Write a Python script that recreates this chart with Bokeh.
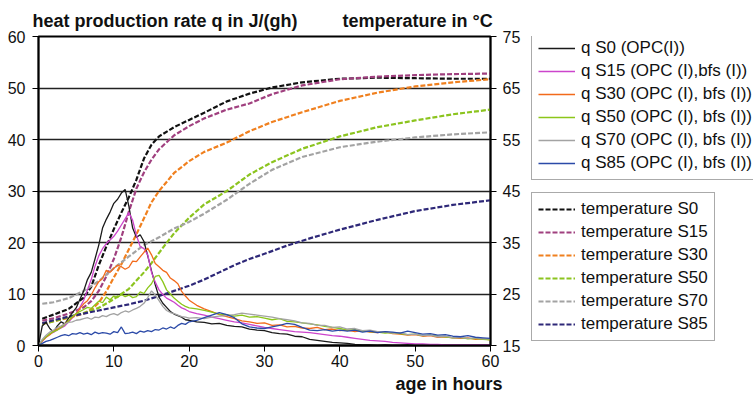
from bokeh.plotting import figure
from bokeh.models import Range1d, LinearAxis, FixedTicker, Legend, LegendItem, Title
from bokeh.layouts import row
from bokeh.embed import file_html
from bokeh.resources import INLINE

# ---------------- data ----------------
X_TICKS = [0, 10, 20, 30, 40, 50, 60]
Q_TICKS = [0, 10, 20, 30, 40, 50, 60]
TEMP_TICKS = [15, 25, 35, 45, 55, 65, 75]

# age grid of the heat production curves (hours)
age_q = [0, 0.5, 1, 1.5, 2, 2.5, 3, 3.5, 4, 4.5, 5, 5.5, 6, 6.5, 7, 7.5, 8, 8.5, 9, 9.5,
         10, 10.5, 11, 11.5, 12, 12.5, 13, 13.5, 14, 14.5, 15, 15.5, 16, 16.5, 17, 17.5,
         18, 18.5, 19, 19.5, 20, 21, 22, 23, 24, 25, 26, 27, 28, 29, 30, 31, 32, 33, 34,
         35, 36, 37, 38, 39, 40, 41, 42, 43, 44, 45, 46, 47, 48, 49, 50, 51, 52, 53, 54,
         55, 56, 57, 58, 59, 60]

q_s0 = [0, 3.8, 4.5, 3.3, 2.6, 3.8, 4.6, 4.2, 5.3, 6.4, 7.3, 9.0, 10.6, 12.8, 14.2, 16.8,
        19.5, 22.8, 24.5, 25.9, 27.6, 28.4, 29.6, 30.3, 27.0, 22.8, 21.0, 21.5, 20.2, 17.4,
        14.5, 11.8, 9.4, 8.2, 7.4, 6.6, 6.1, 5.8, 5.5, 5.0, 4.9,
        4.6, 4.5, 4.2, 4.3, 3.9, 3.7, 3.6, 3.2, 3.0, 2.9, 2.5, 2.3, 2.2, 1.8, 1.7, 1.2, 1.0,
        0.8, 0.6, 0.5, 0.4, 0.2, 0.1, 0.1, 0, 0.1, 0, 0, 0.1, 0, 0, 0, 0.1, 0, 0, 0, 0, 0, 0, 0]
q_s15 = [0, 0.8, 1.6, 2.2, 2.6, 3.0, 3.4, 3.8, 4.6, 5.4, 6.2, 7.4, 8.8, 10.8, 12.8, 15.4,
         17.4, 18.8, 19.8, 20.5, 21.2, 22.2, 23.4, 24.6, 25.8, 24.3, 21.4, 19.2, 18.8, 17.6,
         14.2, 12.3, 10.8, 9.9, 9.2, 8.8, 8.4, 7.8, 7.3, 7.0, 6.6,
         6.2, 5.9, 5.5, 5.2, 4.9, 4.6, 4.4, 4.1, 3.8, 3.5, 3.3, 3.1, 2.9, 2.7, 2.6, 2.5, 2.3,
         2.1, 1.9, 1.8, 1.6, 1.4, 1.2, 1.0, 0.9, 0.8, 0.6, 0.5, 0.4, 0.3, 0.3, 0.2, 0.2, 0.1,
         0.1, 0.1, 0.1, 0.1, 0.1, 0.1]
q_s30 = [0, 0.9, 1.6, 2.1, 2.8, 3.2, 3.6, 4.2, 4.8, 5.5, 6.1, 7.2, 8.1, 8.7, 9.8, 11.2,
         12.4, 13.0, 14.6, 14.2, 15.0, 15.6, 15.3, 14.8, 15.2, 16.4, 16.3, 17.2, 18.1, 18.9,
         17.6, 15.9, 15.3, 14.6, 14.2, 13.1, 12.6, 12.0, 10.5, 9.6, 8.8,
         7.8, 7.1, 6.6, 6.0, 5.6, 5.2, 4.8, 4.6, 4.3, 4.4, 3.9, 4.0, 3.6, 3.7, 3.4, 3.3, 3.5,
         3.1, 3.2, 2.9, 3.0, 2.7, 2.9, 2.6, 2.5, 2.7, 2.3, 2.2, 2.0, 2.1, 1.8, 1.9, 1.6, 1.7,
         1.5, 1.4, 1.5, 1.2, 1.3, 1.1]
q_s50 = [0, 1.0, 1.7, 2.3, 2.7, 3.0, 3.5, 4.1, 4.8, 5.6, 6.2, 6.6, 7.0, 7.4, 7.2, 7.9, 8.6,
         8.3, 9.4, 8.9, 9.6, 9.3, 9.9, 9.5, 9.8, 9.3, 9.5, 10.4, 10.1, 11.2, 12.0, 13.4, 13.6,
         12.4, 10.8, 10.0, 9.2, 8.6, 8.0, 7.6, 7.3,
         7.1, 6.8, 6.5, 6.1, 6.0, 5.7, 5.9, 5.5, 5.6, 5.3, 5.0, 5.2, 4.7, 4.6, 4.4, 4.2, 4.0,
         3.7, 3.5, 3.3, 3.0, 3.1, 2.8, 2.7, 2.6, 2.4, 2.5, 2.3, 2.1, 2.2, 1.9, 2.0, 1.8, 1.7,
         1.5, 1.6, 1.3, 1.4, 1.2, 1.1]
q_s70 = [0, 1.2, 2.0, 2.6, 3.0, 3.5, 3.8, 4.2, 4.5, 4.6, 4.9, 5.0, 5.2, 5.4, 5.1, 5.5, 5.4,
         5.8, 5.6, 6.0, 6.2, 5.9, 6.4, 6.7, 6.5, 6.9, 7.2, 7.6, 8.2, 9.3, 10.6, 9.8, 8.7, 7.6,
         6.8, 6.4, 6.2, 5.9, 5.6, 5.5, 5.3,
         5.4, 5.2, 5.5, 5.7, 5.8, 6.0, 6.3, 6.1, 5.9, 5.7, 5.5, 5.2, 5.0, 4.8, 4.4, 4.3, 3.9,
         3.9, 3.5, 3.6, 3.2, 3.3, 2.9, 3.0, 2.7, 2.7, 2.4, 2.5, 2.1, 2.2, 1.9, 2.0, 1.7, 1.8,
         1.5, 1.6, 1.4, 1.5, 1.3, 1.3]
q_s85 = [0, 0.4, 0.8, 1.0, 1.3, 1.6, 1.9, 2.1, 1.9, 2.3, 2.2, 2.5, 2.2, 2.4, 2.1, 2.6, 2.3,
         2.5, 2.4, 2.2, 2.7, 2.5, 3.6, 2.3, 2.4, 2.6, 2.3, 2.8, 2.6, 2.9, 2.7, 3.1, 3.0, 3.4,
         3.2, 3.6, 3.3, 3.9, 4.3, 4.1, 4.6,
         4.9, 5.4, 5.9, 6.4, 6.0, 5.4, 4.2, 3.6, 3.4, 3.3, 3.6, 3.9, 4.3, 4.1, 3.5, 3.0, 2.9,
         3.1, 2.8, 3.0, 2.8, 3.0, 2.6, 2.8, 2.5, 2.7, 2.6, 2.4, 2.8, 2.5, 2.2, 2.3, 2.0, 2.1,
         1.8, 1.7, 1.9, 1.6, 1.5, 1.4]

# temperature curves (deg C)
age_t0 = [0.5, 2, 4, 6, 7, 8, 9, 10, 11, 12, 13, 14, 15, 16, 18, 20, 22, 25, 28, 31, 35, 40, 45, 50, 55, 60]
t_s0 = [20.2, 21.0, 22.1, 24.3, 26.4, 30.6, 34.2, 37.6, 40.8, 43.8, 47.2, 51.3, 54.0, 55.6,
        57.4, 58.8, 60.2, 62.4, 63.9, 65.1, 66.1, 66.8, 67.0, 66.9, 66.8, 66.8]
age_t15 = [0.5, 2, 4, 6, 7, 8, 9, 10, 11, 12, 13, 14, 15, 16, 18, 20, 22, 25, 28, 31, 35, 40, 45, 50, 55, 60]
t_s15 = [19.8, 20.3, 21.2, 22.4, 23.6, 25.6, 28.4, 31.8, 36.0, 41.0, 45.5, 48.6, 51.1, 53.1,
         55.8, 57.6, 59.1, 60.8, 62.0, 63.8, 65.5, 66.7, 67.2, 67.5, 67.7, 67.8]
age_t30 = [0.5, 2, 4, 6, 7, 8, 9, 10, 11, 12, 13, 14, 15, 16, 18, 20, 22, 25, 28, 31, 35, 40, 45, 50, 55, 60]
t_s30 = [19.2, 19.7, 20.4, 21.2, 22.0, 23.3, 25.5, 28.2, 30.8, 33.7, 36.6, 39.7, 42.8, 45.0,
         48.5, 50.8, 52.6, 54.4, 56.6, 58.4, 60.3, 62.5, 64.1, 65.3, 66.1, 66.7]
age_t50 = [0.5, 2, 4, 6, 8, 10, 12, 13, 14, 15, 16, 18, 20, 22, 25, 28, 31, 35, 40, 45, 50, 55, 60]
t_s50 = [19.2, 19.7, 20.5, 21.3, 22.3, 24.0, 26.0, 27.6, 29.2, 31.0, 33.0, 36.8, 39.8, 42.4,
         45.0, 48.2, 50.6, 53.2, 55.6, 57.4, 58.7, 59.9, 60.8]
age_t70 = [0.5, 2, 4, 6, 8, 10, 12, 14, 16, 18, 20, 22, 25, 28, 31, 35, 40, 45, 50, 55, 60]
t_s70 = [23.1, 23.4, 24.2, 25.6, 27.5, 30.0, 32.3, 34.5, 36.0, 37.7, 39.0, 40.6, 43.3, 46.4,
         49.1, 51.6, 53.5, 54.6, 55.4, 56.0, 56.4]
age_t85 = [0.5, 2, 4, 6, 8, 10, 12, 14, 16, 18, 20, 22, 24, 26, 28, 30, 33, 36, 40, 45, 50, 55, 60]
t_s85 = [19.3, 19.9, 20.6, 21.2, 21.8, 22.4, 23.0, 23.7, 24.6, 25.6, 26.6, 27.8, 29.2, 30.6,
         31.8, 32.8, 34.4, 35.8, 37.5, 39.4, 41.1, 42.3, 43.2]

q_labels = ["q S0 (OPC(I))", "q S15 (OPC (I),bfs (I))", "q S30 (OPC (I), bfs (I))",
            "q S50 (OPC (I), bfs (I))", "q S70 (OPC (I), bfs (I))", "q S85 (OPC (I), bfs (I))"]
t_labels = ["temperature S0", "temperature S15", "temperature S30",
            "temperature S50", "temperature S70", "temperature S85"]
LEFT_TITLE = "heat production rate q in J/(gh)"
RIGHT_TITLE = "temperature in °C"
X_TITLE = "age in hours"

# ---------------- style ----------------
FONT = "Liberation Sans"
q_colors = ["#1a1a1a", "#cc44cc", "#f26a1b", "#8cc61a", "#a3a3a3", "#2b4aa8"]
t_colors = ["#111111", "#a0407f", "#f0801f", "#8cc41f", "#a3a3a3", "#2e2878"]
Q_WIDTH = 1.3
T_WIDTH = 2.2
T_DASH = "5 2"
MAIN_W = 522
GAP = "\u00a0" * 9

# ---------- main chart ----------
p = figure(frame_width=452, frame_height=309, output_backend="svg", toolbar_location=None,
           x_range=Range1d(0, 60), y_range=Range1d(0, 60),
           min_border_left=38, min_border_right=32, min_border_top=36, min_border_bottom=54)
p.extra_y_ranges = {"temp": Range1d(15, 75)}

p.background_fill_color = "white"
p.border_fill_color = "white"
p.outline_line_color = "black"
p.outline_line_width = 2
p.xgrid.visible = False
p.ygrid.ticker = FixedTicker(ticks=Q_TICKS)
p.ygrid.grid_line_color = "#222222"
p.ygrid.grid_line_width = 1.4

def style_axis(ax):
    ax.axis_line_color = "black"
    ax.axis_line_width = 1.6
    ax.major_tick_line_color = "black"
    ax.major_tick_in = 0
    ax.major_tick_out = 6
    ax.minor_tick_line_color = None
    ax.major_label_text_font = FONT
    ax.major_label_text_font_size = "16px"
    ax.major_label_text_color = "#111111"

p.xaxis.ticker = FixedTicker(ticks=X_TICKS)
p.yaxis.ticker = FixedTicker(ticks=Q_TICKS)
style_axis(p.xaxis[0])
style_axis(p.yaxis[0])
p.xaxis[0].major_label_standoff = 3
p.xaxis[0].axis_line_width = 2
p.yaxis[0].major_label_standoff = 7

tax = LinearAxis(y_range_name="temp", ticker=FixedTicker(ticks=TEMP_TICKS))
style_axis(tax)
tax.major_label_standoff = 6
p.add_layout(tax, "right")

p.add_layout(Title(text=LEFT_TITLE + GAP + RIGHT_TITLE, align="left", offset=-6, standoff=12,
                   text_font=FONT, text_font_size="18px", text_font_style="bold",
                   text_color="#111111"), "above")
p.add_layout(Title(text=X_TITLE, align="right", offset=-12, standoff=5,
                   text_font=FONT, text_font_size="18px", text_font_style="bold",
                   text_color="#111111"), "below")

t_ages = [age_t0, age_t15, age_t30, age_t50, age_t70, age_t85]
t_vals = [t_s0, t_s15, t_s30, t_s50, t_s70, t_s85]
q_vals = [q_s0, q_s15, q_s30, q_s50, q_s70, q_s85]

for ages, vals, col in zip(t_ages, t_vals, t_colors):
    p.line(ages, vals, y_range_name="temp", line_color=col, line_width=T_WIDTH, line_dash=T_DASH)
for vals, col in zip(q_vals, q_colors):
    p.line(age_q, vals, line_color=col, line_width=Q_WIDTH)

# ---------- legend panel (proxies are drawn outside its visible range) ----------
leg = figure(width=753 - MAIN_W, height=399, output_backend="svg", toolbar_location=None,
             x_axis_type=None, y_axis_type=None, x_range=Range1d(-100, -99),
             y_range=Range1d(0, 60), min_border=0, outline_line_color=None)
leg.grid.visible = False

q_items = []
for lab, vals, col in zip(q_labels, q_vals, q_colors):
    r = leg.line(age_q, vals, line_color=col, line_width=Q_WIDTH)
    q_items.append(LegendItem(label=lab, renderers=[r]))
t_items = []
for lab, ages, vals, col in zip(t_labels, t_ages, t_vals, t_colors):
    r = leg.line(ages, vals, line_color=col, line_width=T_WIDTH, line_dash=T_DASH)
    t_items.append(LegendItem(label=lab, renderers=[r]))

def make_legend(items, loc):
    lg = Legend(items=items, location=loc, orientation="vertical")
    lg.label_text_font = FONT
    lg.label_text_font_size = "17px"
    lg.label_text_color = "#111111"
    lg.glyph_width = 37
    lg.glyph_height = 20
    lg.label_height = 20
    lg.label_standoff = 6
    lg.spacing = 3
    lg.padding = 6
    lg.margin = 0
    lg.border_line_color = "#555555"
    lg.border_line_width = 1.3
    lg.background_fill_color = "white"
    lg.background_fill_alpha = 1
    return lg

# the legend panel's frame is aligned with the chart frame (y measured from its bottom)
leg.add_layout(make_legend(q_items, (8, 165)), "center")
leg.add_layout(make_legend(t_items, (8, 4)), "center")

layout = row(p, leg, spacing=0)
open("out.html", "w").write(file_html(layout, INLINE))
